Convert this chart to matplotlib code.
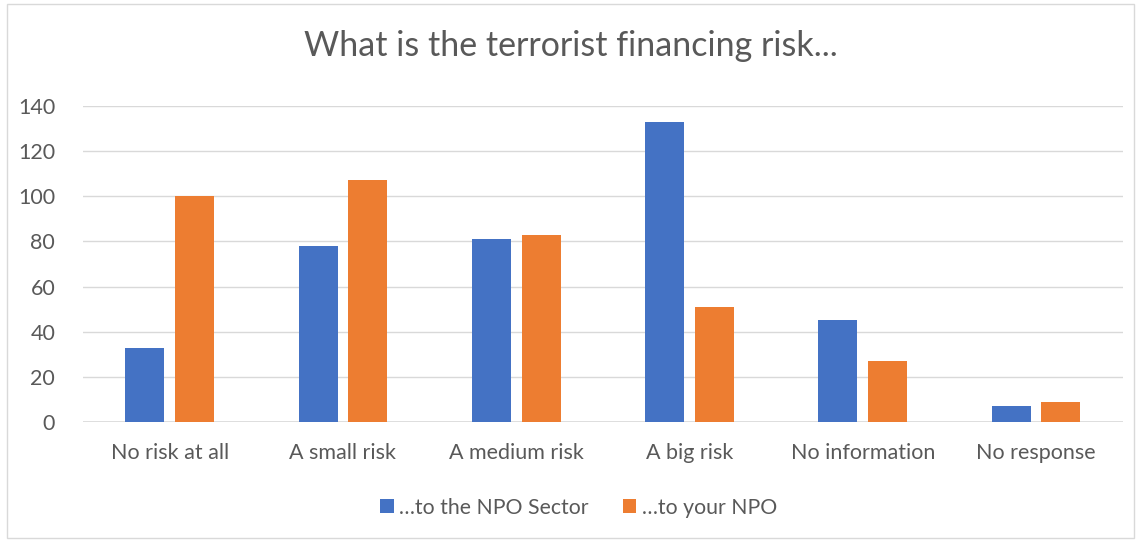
import numpy as np
import matplotlib.pyplot as plt
from matplotlib.patches import Rectangle

categories = ["No risk at all", "A small risk", "A medium risk", "A big risk", "No information", "No response"]
npo_sector = [33, 78, 81, 133, 45, 7]
your_npo = [100, 107, 83, 51, 27, 9]
series_names = ["\u2026to the NPO Sector", "\u2026to your NPO"]

plt.rcParams['font.family'] = ['Lato', 'DejaVu Sans']
txt = '#595959'

fig = plt.figure(figsize=(11.41, 5.40), dpi=100)
fig.patches.append(Rectangle((0.006, 0.004), 0.988, 0.988, transform=fig.transFigure,
                             fill=False, edgecolor='#d9d9d9', linewidth=1))
ax = fig.add_axes([0.0727, 0.2185, 0.9113, 0.5852])

x = np.arange(len(categories))
w = 0.225
off = 0.1435
ax.bar(x - off, npo_sector, w, color='#4472c4', label=series_names[0], zorder=3)
ax.bar(x + off, your_npo, w, color='#ed7d31', label=series_names[1], zorder=3)

ax.set_xlim(-0.5, len(categories) - 0.5)
ax.set_ylim(0, 140)
ax.set_yticks(range(0, 141, 20))
ax.set_xticks(x)
ax.set_xticklabels(categories)
ax.yaxis.grid(True, color='#d9d9d9', linewidth=1, zorder=0)
for s in ax.spines.values():
    s.set_visible(False)
ax.tick_params(length=0, labelsize=15.5, colors=txt)
ax.tick_params(axis='x', pad=15)
ax.tick_params(axis='y', pad=20)
ax.axhline(0, color='#d9d9d9', linewidth=1.2, zorder=2)

fig.suptitle("What is the terrorist financing risk...", y=0.945, fontsize=24.5, color=txt)
fig.legend(loc='center', bbox_to_anchor=(0.507, 0.06), ncol=2, frameon=False,
           fontsize=15.3, labelcolor=txt, handlelength=0.65, handleheight=0.65,
           columnspacing=1.6, handletextpad=0.25)

fig.savefig('out.png', dpi=100)
